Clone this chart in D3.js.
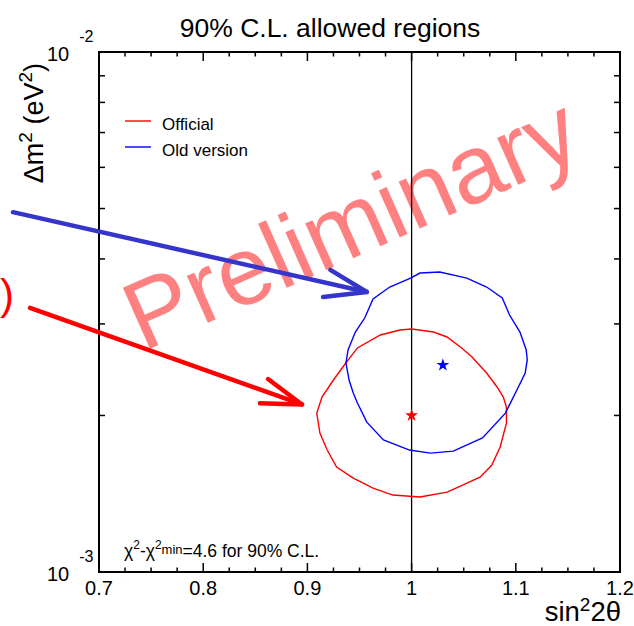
<!DOCTYPE html>
<html>
<head>
<meta charset="utf-8">
<script src="https://cdn.jsdelivr.net/npm/d3@7"></script>
<style>
  body { margin: 0; background: #fff; }
  svg { display: block; }
  text { font-family: "Liberation Sans", Arial, Helvetica, sans-serif; fill: #000; }
</style>
</head>
<body>
<svg id="chart" width="634" height="626"></svg>
<script>
// 90% C.L. contours in (sin^2 2θ, Δm^2 [eV^2])
const officialContour = [
  [1.000, 2.933e-3], [1.021, 2.894e-3], [1.034, 2.831e-3], [1.048, 2.697e-3],
  [1.058, 2.592e-3], [1.072, 2.414e-3], [1.082, 2.269e-3], [1.088, 2.170e-3],
  [1.091, 2.076e-3], [1.091, 1.933e-3], [1.085, 1.739e-3], [1.077, 1.606e-3],
  [1.066, 1.523e-3], [1.049, 1.469e-3], [1.034, 1.424e-3], [1.008, 1.394e-3],
  [0.982, 1.406e-3], [0.963, 1.450e-3], [0.944, 1.516e-3], [0.928, 1.591e-3],
  [0.919, 1.716e-3], [0.912, 1.850e-3], [0.909, 2.021e-3], [0.914, 2.170e-3],
  [0.925, 2.340e-3], [0.934, 2.479e-3], [0.948, 2.697e-3], [0.970, 2.856e-3],
  [0.989, 2.920e-3]
];
const oldContour = [
  [1.008, 3.758e-3], [1.027, 3.775e-3], [1.053, 3.675e-3], [1.072, 3.532e-3],
  [1.087, 3.364e-3], [1.094, 3.120e-3], [1.104, 2.894e-3], [1.110, 2.673e-3],
  [1.111, 2.557e-3], [1.109, 2.414e-3], [1.102, 2.259e-3], [1.090, 2.021e-3],
  [1.068, 1.810e-3], [1.040, 1.708e-3], [1.018, 1.693e-3], [0.998, 1.716e-3],
  [0.973, 1.794e-3], [0.957, 1.942e-3], [0.948, 2.113e-3], [0.944, 2.209e-3],
  [0.940, 2.340e-3], [0.937, 2.523e-3], [0.939, 2.673e-3], [0.946, 2.894e-3],
  [0.955, 3.079e-3], [0.963, 3.350e-3], [0.979, 3.532e-3], [0.999, 3.675e-3]
];
const seriesNames = ["Official", "Old version"];
const seriesColors = ["#ff0000", "#0000ff"];
const bestFitS2 = [1.000, 1.030];
const bestFitDm2 = [2.0e-3, 2.5e-3];

// axis ticks
const xMajorTicks = [0.7, 0.8, 0.9, 1.0, 1.1, 1.2];
const xTickLabels = ["0.7", "0.8", "0.9", "1", "1.1", "1.2"];
const yMinorTicks = [2e-3, 3e-3, 4e-3, 5e-3, 6e-3, 7e-3, 8e-3, 9e-3];
const yDecades = [1e-3, 1e-2];
const yDecadeExponents = ["-3", "-2"];
const physicalLimit = 1.0;

// slide annotations (hand-drawn arrows, watermark)
const blueArrowShaft = [[0.6175, 4.92e-3], [0.957, 3.455e-3]];
const blueArrowHead = [[0.922, 3.81e-3], [0.957, 3.455e-3], [0.915, 3.38e-3]];
const redArrowShaft = [[0.6338, 3.22e-3], [0.8948, 2.10e-3]];
const redArrowHead = [[0.8622, 2.35e-3], [0.8948, 2.10e-3], [0.8545, 2.11e-3]];
const parenAnchor = [0.605, 3.2e-3];
const watermarkAnchor = [0.742, 2.65e-3];

const svg = d3.select("#chart");
const plotLeft = 99, plotRight = 620, plotTop = 52, plotBottom = 572;

const x = d3.scaleLinear().domain([0.7, 1.2]).range([plotLeft, plotRight]);
const y = d3.scaleLog().domain([1e-3, 1e-2]).range([plotBottom, plotTop]);

// watermark
svg.append("text")
  .attr("transform", `translate(${x(watermarkAnchor[0])},${y(watermarkAnchor[1])}) rotate(-24)`)
  .attr("font-size", 97)
  .style("fill", "#ff8080")
  .text("Preliminary");

// sin^2 2θ = 1 line
svg.append("line")
  .attr("x1", x(physicalLimit)).attr("x2", x(physicalLimit))
  .attr("y1", y(1e-3)).attr("y2", y(1e-2))
  .attr("stroke", "#000").attr("stroke-width", 1.3);

// contours
const contourLine = d3.line().x(d => x(d[0])).y(d => y(d[1])).curve(d3.curveLinearClosed);
[officialContour, oldContour].forEach((c, i) => {
  svg.append("path").attr("d", contourLine(c))
    .attr("fill", "none").attr("stroke", seriesColors[i]).attr("stroke-width", 1.4);
});

// best-fit stars
const star = d3.symbol().type(d3.symbolStar).size(52);
bestFitS2.forEach((s, i) => {
  svg.append("path").attr("d", star())
    .attr("transform", `translate(${x(s)},${y(bestFitDm2[i])})`)
    .attr("fill", seriesColors[i]);
});

// frame
svg.append("rect")
  .attr("x", plotLeft).attr("y", plotTop)
  .attr("width", plotRight - plotLeft).attr("height", plotBottom - plotTop)
  .attr("fill", "none").attr("stroke", "#000").attr("stroke-width", 2);

// x ticks (bottom and top)
const xMinor = d3.range(0, 21).map(k => 0.7 + k * 0.025);
const g = svg.append("g").attr("stroke", "#000").attr("stroke-width", 1.5);
xMinor.forEach(v => {
  const isMajor = Math.abs(v * 10 - Math.round(v * 10)) < 1e-6;
  const len = isMajor ? 9 : 4.5;
  g.append("line").attr("x1", x(v)).attr("x2", x(v)).attr("y1", plotBottom).attr("y2", plotBottom - len);
  g.append("line").attr("x1", x(v)).attr("x2", x(v)).attr("y1", plotTop).attr("y2", plotTop + len);
});
// y ticks (left and right)
yMinorTicks.forEach(v => {
  g.append("line").attr("x1", plotLeft).attr("x2", plotLeft + 6).attr("y1", y(v)).attr("y2", y(v));
  g.append("line").attr("x1", plotRight).attr("x2", plotRight - 6).attr("y1", y(v)).attr("y2", y(v));
});

// x tick labels
xMajorTicks.forEach((v, i) => {
  svg.append("text").attr("x", x(v)).attr("y", 595)
    .attr("text-anchor", "middle").attr("font-size", 20).text(xTickLabels[i]);
});

// y decade labels 10^-3, 10^-2
yDecades.forEach((v, i) => {
  const t = svg.append("text").attr("x", 47).attr("y", y(v) + 9).attr("font-size", 20);
  t.append("tspan").text("10");
  t.append("tspan").attr("dx", 10).attr("dy", -19).attr("font-size", 16).text(yDecadeExponents[i]);
});

// title
svg.append("text").attr("x", 330).attr("y", 37).attr("text-anchor", "middle")
  .attr("font-size", 26.5).text("90% C.L. allowed regions");

// axis titles
const yl = svg.append("text")
  .attr("transform", `translate(43,63) rotate(-90)`)
  .attr("text-anchor", "end").attr("font-size", 27);
yl.append("tspan").text("\u0394m");
yl.append("tspan").attr("dy", -11).attr("font-size", 19).text("2");
yl.append("tspan").attr("dy", 11).text(" (eV");
yl.append("tspan").attr("dy", -11).attr("font-size", 19).text("2");
yl.append("tspan").attr("dy", 11).text(")");

const xl = svg.append("text").attr("x", 621).attr("y", 620.5)
  .attr("text-anchor", "end").attr("font-size", 27.5);
xl.append("tspan").text("sin");
xl.append("tspan").attr("dy", -10).attr("font-size", 19).text("2");
xl.append("tspan").attr("dy", 10).text("2\u03b8");

// chi2 note
const note = svg.append("text").attr("x", 124).attr("y", 557).attr("font-size", 17.5);
note.append("tspan").text("\u03c7");
note.append("tspan").attr("dy", -8).attr("font-size", 12).text("2");
note.append("tspan").attr("dy", 8).text("-\u03c7");
note.append("tspan").attr("dy", -8).attr("font-size", 12).text("2");
note.append("tspan").attr("dy", 5).attr("font-size", 13).text("min");
note.append("tspan").attr("dy", 3).text("=4.6 for 90% C.L.");

// legend
seriesNames.forEach((name, i) => {
  const ly = 121 + i * 26;
  svg.append("line").attr("x1", 125).attr("x2", 151).attr("y1", ly).attr("y2", ly)
    .attr("stroke", seriesColors[i]).attr("stroke-width", 1.4);
  svg.append("text").attr("x", 162).attr("y", ly + 9).attr("font-size", 17).text(name);
});

// arrows
const arrowLine = d3.line().x(d => x(d[0])).y(d => y(d[1]));
[[blueArrowShaft, blueArrowHead, "#3535cc", 4.5], [redArrowShaft, redArrowHead, "#ff0000", 4.5]]
  .forEach(([shaft, head, col, w]) => {
    svg.append("path").attr("d", arrowLine(shaft)).attr("fill", "none")
      .attr("stroke", col).attr("stroke-width", w).attr("stroke-linecap", "round");
    svg.append("path").attr("d", arrowLine(head)).attr("fill", "none")
      .attr("stroke", col).attr("stroke-width", w).attr("stroke-linecap", "round")
      .attr("stroke-linejoin", "round");
  });

svg.append("text").attr("x", x(parenAnchor[0])).attr("y", y(parenAnchor[1]))
  .attr("font-size", 42).style("fill", "#ff0000").text(")");
</script>
</body>
</html>
